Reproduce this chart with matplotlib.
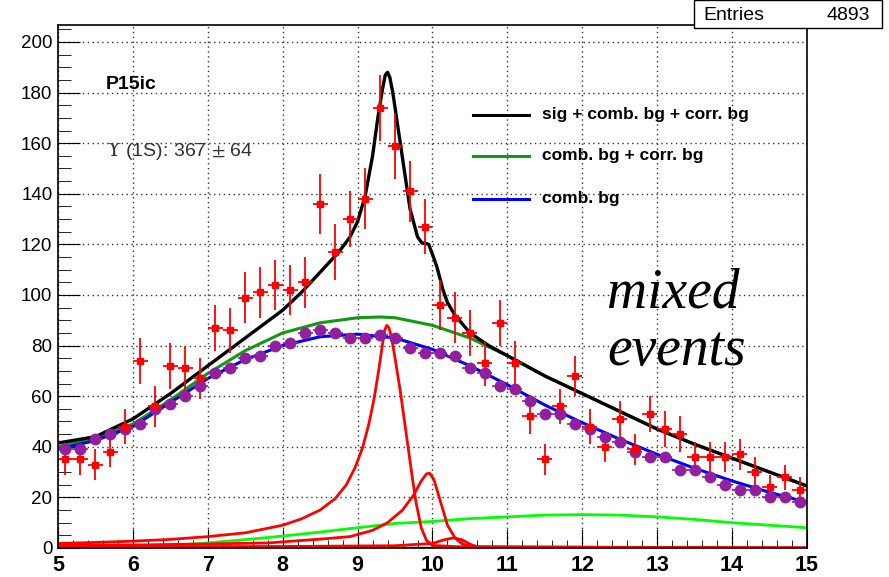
import numpy as np
import matplotlib.pyplot as plt
from matplotlib.patches import Rectangle

plt.rcParams['font.family'] = ['Liberation Sans', 'DejaVu Sans']
plt.rcParams['mathtext.fontset'] = 'stix'

# bin centres of the invariant-mass histogram (GeV/c^2)
mass = np.round(np.arange(5.1, 15.0, 0.2), 1)

# same-event (unlike-sign) counts
data_counts = [35, 35, 33, 38, 48, 74, 56, 72, 71, 67,
               87, 86, 99, 101, 104, 102, 105, 136, 117, 130,
               138, 174, 159, 141, 127, 96, 91, 85, 73, 89,
               73, 52, 35, 56, 68, 48, 40, 51, 39, 53,
               47, 45, 36, 36, 36, 37, 30, 24, 28, 23]
data_err = [6, 6, 6, 6, 7, 9, 8, 9, 9, 8,
            9, 9, 10, 10, 10, 10, 10, 12, 11, 11,
            12, 13, 13, 12, 11, 10, 10, 9, 9, 9,
            9, 7, 6, 7, 8, 7, 6, 7, 6, 7,
            7, 7, 6, 6, 6, 6, 6, 5, 5, 5]

# mixed-event background (scaled)
mixed_counts = [39, 39, 43, 45, 47, 49, 55, 57, 60, 64,
                69, 71, 75, 76, 80, 81, 85, 86, 85, 83,
                83, 84, 83, 79, 77, 77, 76, 71, 69, 64,
                63, 58, 53, 53, 49, 47, 44, 42, 38, 36,
                36, 31, 31, 28, 25, 23, 23, 20, 20, 18]
mixed_err = [1.5] * 50

# fitted curves
comb_x = [5.0, 5.5, 6.0, 6.5, 7.0, 7.5, 8.0, 8.5, 9.0, 9.5, 10.0, 10.5,
          11.0, 11.5, 12.0, 12.5, 13.0, 13.5, 14.0, 14.5, 15.0]
comb_y = [39, 42.5, 48, 57.5, 67, 74.5, 80, 83.5, 84.5, 83, 78.5, 72,
          64.5, 56.5, 49.5, 43, 37, 31.5, 26.5, 22, 18]

combcorr_x = [5.0, 5.5, 6.0, 6.5, 7.0, 7.5, 8.0, 8.5, 9.0, 9.3, 9.5, 10.0,
              10.5, 10.75, 11.0, 11.5, 12.0, 12.5, 13.0, 13.5, 14.0, 14.5, 15.0]
combcorr_y = [40, 43.5, 49, 58.5, 69, 78, 85, 89, 91, 91.3, 91, 88,
              83, 79.5, 76, 68, 61, 54, 47, 41, 35.5, 30, 24.5]

total_x = [5.0, 5.5, 6.0, 6.5, 7.0, 7.5, 8.0, 8.25, 8.5, 8.75, 8.9, 9.0,
           9.1, 9.2, 9.27, 9.33, 9.37, 9.4, 9.43, 9.47, 9.52, 9.6, 9.7,
           9.8, 9.86, 9.9, 9.95, 10.0, 10.06, 10.14, 10.2, 10.3, 10.5,
           10.75, 11.0, 11.5, 12.0, 12.5, 13.0, 13.5, 14.0, 14.5, 15.0]
total_y = [41.5, 44, 51, 61, 72, 83, 94, 101, 109, 117, 123, 129,
           139, 155, 170, 181, 187, 188, 186, 180, 170, 154, 134,
           123, 120.5, 120.5, 120, 116, 111, 102, 97, 92, 85,
           80, 76, 68, 61, 54, 47, 41, 35.5, 30, 24.5]

ups1s_x = [5.0, 5.5, 6.0, 6.5, 7.0, 7.5, 8.0, 8.25, 8.5, 8.7, 8.85, 8.97,
           9.07, 9.15, 9.22, 9.28, 9.33, 9.36, 9.39, 9.42, 9.46, 9.5,
           9.57, 9.65, 9.72, 9.78, 9.85, 9.92, 10.0, 10.5, 15.0]
ups1s_y = [1.8, 2.2, 2.7, 3.4, 4.5, 6.0, 9.0, 11.5, 15, 19.5, 25, 32,
           40, 49, 59, 70, 80, 86, 88, 87, 82, 75,
           62, 45, 30, 18, 8, 3, 1, 0.3, 0]

ups2s_x = [5.0, 6.0, 7.0, 7.8, 8.5, 8.9, 9.2, 9.4, 9.6, 9.75, 9.85, 9.92,
           9.96, 10.02, 10.1, 10.2, 10.3, 10.4, 10.6, 15.0]
ups2s_y = [1.0, 1.2, 1.6, 2.0, 3.5, 4.5, 7, 10, 15, 21, 26.5, 29.3,
           29.6, 27, 19, 9, 4, 1.5, 0.5, 0]

ups3s_x = [5.0, 8.0, 9.5, 10.0, 10.15, 10.28, 10.4, 10.5, 10.6, 15.0]
ups3s_y = [0.5, 0.6, 0.9, 1.8, 3.2, 4.0, 3.2, 1.5, 0.4, 0]

corr_x = [5.0, 5.5, 6.0, 6.5, 7.0, 7.5, 8.0, 8.5, 9.0, 9.5, 10.0, 10.5,
          11.0, 11.5, 12.0, 12.5, 13.0, 13.5, 14.0, 14.5, 15.0]
corr_y = [0, 0, 0.3, 1, 2, 3.3, 4.7, 6.3, 8, 9.7, 10.5, 11.6,
          12.3, 13, 13.2, 13, 12.3, 11.3, 10, 9, 8]

fig = plt.figure(figsize=(8.89, 5.77), dpi=100)
ax = fig.add_axes([58 / 889, 1 - 548 / 577, 749 / 889, 523 / 577])

ax.plot(corr_x, corr_y, color='#00ff00', lw=2)
ax.plot([5.0, 15.0], [0, 0], color='red', lw=2)
ax.plot([8.9, 10.0], [0, 0], color='black', lw=2.5)
ax.plot(ups1s_x, ups1s_y, color='red', lw=2)
ax.plot(ups2s_x, ups2s_y, color='red', lw=2)
ax.plot(ups3s_x, ups3s_y, color='red', lw=2)
ax.plot(combcorr_x, combcorr_y, color='#119911', lw=2.2)
ax.plot(comb_x, comb_y, color='#0000ff', lw=2.2)
ax.errorbar(mass, mixed_counts, yerr=mixed_err, xerr=0.1, fmt='o',
            color='#921f9e', ms=7.5, elinewidth=1.2, capsize=0)
ax.plot(total_x, total_y, color='black', lw=2.4)
ax.errorbar(mass, data_counts, yerr=data_err, xerr=0.1, fmt='s',
            color='red', ms=4.5, elinewidth=1.3, capsize=0)

ax.set_xlim(5, 15)
ax.set_ylim(0, 206.7)
ax.set_xticks(np.arange(5, 16, 1))
ax.set_xticks(np.arange(5, 15.01, 0.2), minor=True)
ax.set_yticks(np.arange(0, 201, 20))
ax.set_yticks(np.arange(0, 206, 5), minor=True)
ax.tick_params(which='both', direction='in', top=False, right=False, color='black')
ax.tick_params(axis='y', which='major', length=16, labelsize=13.5, pad=4)
ax.tick_params(axis='y', which='minor', length=9)
ax.tick_params(axis='x', which='major', length=14, labelsize=15.5, pad=5)
ax.tick_params(axis='x', which='minor', length=6)
for lab in ax.get_xticklabels():
    lab.set_fontweight('bold')
ax.grid(True, which='major', color='#333333', linestyle=(0, (1, 2.5)), lw=1)
for sp in ax.spines.values():
    sp.set_linewidth(1.2)

# texts placed in pixel coordinates (origin bottom-left)
ax.text(106, 577 - 89, 'P15ic', transform=None, fontsize=14, fontweight='bold')
ax.text(106, 577 - 156, r'$\Upsilon$ (1S): 367 $\pm$ 64', transform=None,
        fontsize=14, color='#333333')

leg_rows = [('sig + comb. bg + corr. bg', 'black', 115),
            ('comb. bg + corr. bg', '#119911', 156),
            ('comb. bg', '#0000ff', 199)]
for label, col, ypx in leg_rows:
    fig.add_artist(plt.Line2D([473 / 889, 529 / 889], [1 - ypx / 577] * 2,
                              color=col, lw=2.2))
    fig.text(542 / 889, 1 - ypx / 577, label, fontsize=12.5, fontweight='bold',
             va='center')

fig.text(607 / 889, 1 - 308 / 577, 'mixed', fontsize=40, style='italic',
         family='Liberation Serif')
fig.text(607 / 889, 1 - 365 / 577, 'events', fontsize=40, style='italic',
         family='Liberation Serif')

fig.add_artist(Rectangle((694 / 889, 1 - 28 / 577), 188 / 889, 28 / 577,
                         transform=fig.transFigure, fill=True, facecolor='white',
                         edgecolor='black', lw=1))
fig.text(703 / 889, 1 - 15 / 577, 'Entries', fontsize=14, va='center')
fig.text(870 / 889, 1 - 15 / 577, '4893', fontsize=14, va='center', ha='right')

fig.savefig('out.png', dpi=100)
